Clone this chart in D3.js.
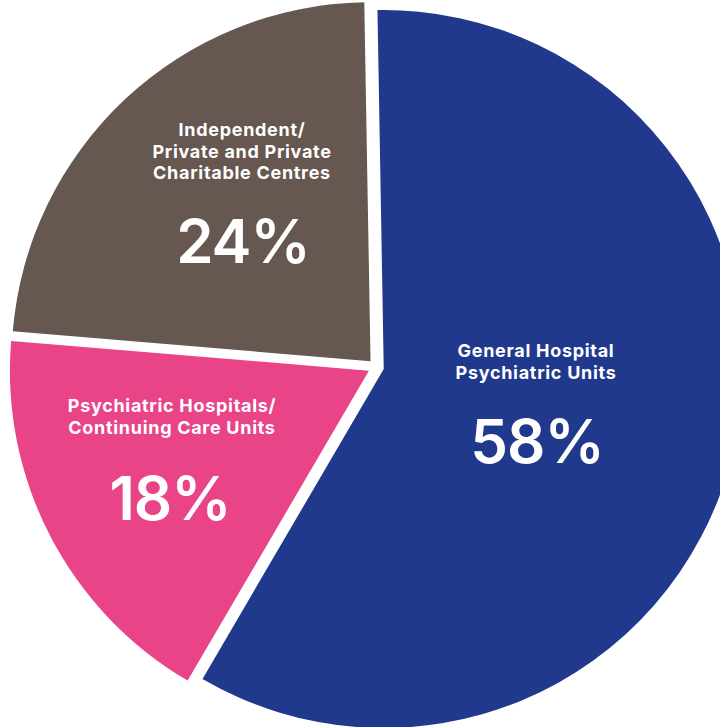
<!DOCTYPE html>
<html>
<head>
<meta charset="utf-8">
<script src="https://cdn.jsdelivr.net/npm/d3@7"></script>
<style>
  body { margin: 0; background: #fff; }
  svg { display: block; }
</style>
</head>
<body>
<script>
var width = 720,
    height = 727;

var categories = ["General Hospital Psychiatric Units",
                  "Psychiatric Hospitals/ Continuing Care Units",
                  "Independent/ Private and Private Charitable Centres"];
var shares = [58.7, 17.9, 23.4];
var pctLabels = ["58%", "18%", "24%"];
var labelLines = [["General Hospital", "Psychiatric Units"],
                  ["Psychiatric Hospitals/", "Continuing Care Units"],
                  ["Independent/", "Private and Private", "Charitable Centres"]];

var colours = ["#21398d", "#e94488", "#665750"];

var cx = 376, cy = 367,
    radius = 359,
    explode = 8;

// label anchor: baseline of first text line, placed per slice
var labelPos = [[536, 357], [172, 412], [242, 136]];
var pctPos = [[537, 463], [170, 520], [243, 263]];

var svg = d3.select("body").append("svg")
    .attr("width", width)
    .attr("height", height);

var g = svg.append("g")
    .attr("transform", "translate(" + cx + "," + cy + ")");

var pie = d3.pie()
    .sort(null)
    .startAngle(-1 * Math.PI / 180)
    .endAngle(359 * Math.PI / 180)
    .value(function(d) { return d; });

var arc = d3.arc()
    .innerRadius(0)
    .outerRadius(radius);

var arcs = pie(shares);

g.selectAll("path")
  .data(arcs)
  .enter().append("path")
    .attr("d", arc)
    .attr("fill", function(d, i) { return colours[i]; })
    .attr("transform", function(d) {
      var mid = (d.startAngle + d.endAngle) / 2;
      return "translate(" + (explode * Math.sin(mid)) + "," + (-explode * Math.cos(mid)) + ")";
    });

var labels = svg.append("g")
    .attr("font-family", "Inter, 'Open Sans', sans-serif")
    .attr("fill", "#fff")
    .attr("text-anchor", "middle");

labels.selectAll("text.cat")
  .data(labelLines)
  .enter().append("text")
    .attr("class", "cat")
    .attr("x", function(d, i) { return labelPos[i][0]; })
    .attr("y", function(d, i) { return labelPos[i][1]; })
    .attr("font-size", 18)
    .attr("font-weight", 700)
    .attr("letter-spacing", 0.7)
    .each(function(lines, i) {
      d3.select(this).selectAll("tspan")
        .data(lines)
        .enter().append("tspan")
          .attr("x", labelPos[i][0])
          .attr("dy", function(d, j) { return j == 0 ? 0 : 21.5; })
          .text(function(d) { return d; });
    });

labels.selectAll("text.pct")
  .data(pctLabels)
  .enter().append("text")
    .attr("class", "pct")
    .attr("x", function(d, i) { return pctPos[i][0]; })
    .attr("y", function(d, i) { return pctPos[i][1]; })
    .attr("font-size", 60)
    .attr("font-weight", 600)
    .attr("letter-spacing", -1)
    .text(function(d) { return d; });
</script>
</body>
</html>
